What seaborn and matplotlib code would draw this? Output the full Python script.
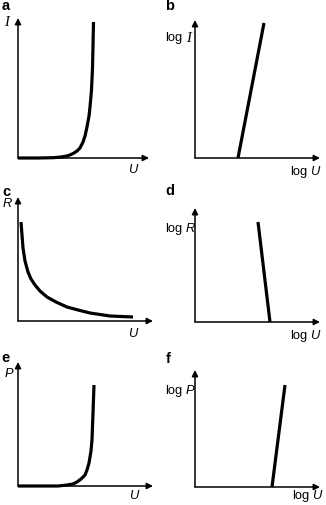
import matplotlib.pyplot as plt
import seaborn as sns

sns.set_style('white')
plt.rcParams['font.family'] = ['Liberation Sans', 'DejaVu Sans']
plt.rcParams['text.color'] = 'black'

# curve points, in pixels from each panel origin
a_u = [0, 20, 35, 43, 49, 53, 56, 59, 62, 65, 67, 69, 71, 72, 73.5, 74.5, 75, 75.5]
a_i = [0, 0, 0.3, 1, 2, 3.5, 5, 7, 10, 16, 22, 31, 42, 51, 68, 90, 112, 136]

b_logu = [43, 69]
b_logi = [0, 135]

c_u = [3, 4, 5, 7, 10, 13, 17, 22, 29, 38, 49, 60, 72, 92, 115]
c_r = [99, 86, 73, 60, 49, 42, 36, 30, 24, 19, 14, 11, 8, 5, 4]

d_logu = [63, 75]
d_logr = [100, 0]

e_u = [0, 20, 40, 49, 55, 59, 63, 65, 67, 69, 71, 73, 74, 75, 76]
e_p = [0, 0, 0, 1, 2, 4, 7, 9, 11, 16, 23, 35, 46, 73, 101]

f_logu = [77, 90]
f_logp = [0, 102]

# panel layout in pixels: origin x, origin y, x-axis length, y-axis length
W, H = 326, 505
panels = {
    'a': (18, 158, 131, 140),
    'b': (195, 158, 125, 138),
    'c': (18, 321, 135, 124),
    'd': (195, 322, 125, 114),
    'e': (18, 486, 135, 124),
    'f': (195, 487, 125, 117),
}
curves = {
    'a': (a_u, a_i),
    'b': (b_logu, b_logi),
    'c': (c_u, c_r),
    'd': (d_logu, d_logr),
    'e': (e_u, e_p),
    'f': (f_logu, f_logp),
}

fig = plt.figure(figsize=(W / 100, H / 100), dpi=100)

arrow = dict(arrowstyle='-|>', color='black', lw=1.1, mutation_scale=9,
             shrinkA=0, shrinkB=0)

for key, (ox, oy, lx, ly) in panels.items():
    ax = fig.add_axes([ox / W, 1 - oy / H, lx / W, ly / H])
    ax.set_xlim(0, lx)
    ax.set_ylim(0, ly)
    ax.axis('off')
    ax.annotate('', xy=(1, 0), xytext=(0, 0), xycoords='axes fraction', arrowprops=arrow)
    ax.annotate('', xy=(0, 1), xytext=(0, 0), xycoords='axes fraction', arrowprops=arrow)
    xs, ys = curves[key]
    sns.lineplot(x=xs, y=ys, ax=ax, color='black', lw=2.3, sort=False,
                 estimator=None)
    for ln in ax.lines:
        ln.set_clip_on(False)
        ln.set_solid_capstyle('butt')


def txt(x, y, s, **kw):
    fig.text(x / W, 1 - y / H, s, va='center', color='black', **kw)


fs = 9.3
sans_it = dict(fontsize=fs, style='italic')
serif_it = dict(fontsize=10.5, style='italic', family=['Liberation Serif', 'DejaVu Serif'])
letter = dict(fontsize=10.5, weight='bold')

# panel letters
txt(2, 6, 'a', **letter)
txt(165, 6, 'b', **letter)
txt(2, 192, 'c', **letter)
txt(165, 191, 'd', **letter)
txt(1, 358, 'e', **letter)
txt(166, 359, 'f', **letter)

# axis labels
txt(4, 22, 'I', **serif_it)
txt(128, 170, 'U', **sans_it)

txt(165, 38, 'log', fontsize=fs)
txt(186, 38, 'I', **serif_it)
txt(290, 172, 'log', fontsize=fs)
txt(310, 172, 'U', **sans_it)

txt(3, 204, 'R', **sans_it)
txt(128, 334, 'U', **sans_it)

txt(165, 229, 'log', fontsize=fs)
txt(186, 229, 'R', **sans_it)
txt(290, 336, 'log', fontsize=fs)
txt(310, 336, 'U', **sans_it)

txt(5, 374, 'P', **sans_it)
txt(129, 496, 'U', **sans_it)

txt(165, 391, 'log', fontsize=fs)
txt(186, 391, 'P', **sans_it)
txt(292, 496, 'log', fontsize=fs)
txt(312, 496, 'U', **sans_it)

fig.savefig('out.png', dpi=100)
